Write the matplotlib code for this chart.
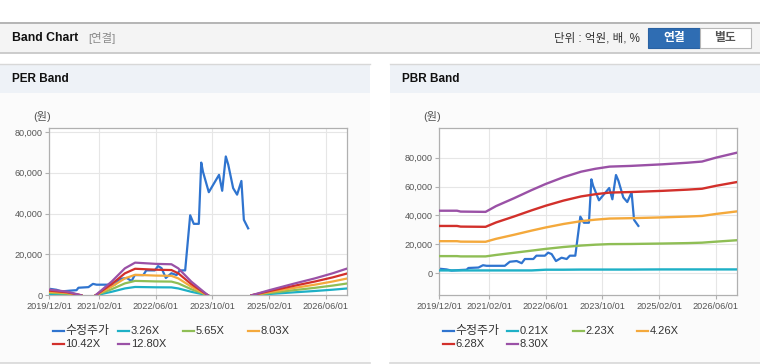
import numpy as np
import pandas as pd
import matplotlib
matplotlib.use("Agg")
import matplotlib.pyplot as plt
import matplotlib.dates as mdates
from matplotlib.patches import Rectangle
from matplotlib.lines import Line2D

plt.rcParams['font.family'] = ['Liberation Sans', 'Noto Sans CJK KR', 'DejaVu Sans']

W, H = 760, 364
nan = np.nan

# ---- data ----
price_dates = ['2019-12-01', '2020-02-01', '2020-03-15', '2020-06-01', '2020-07-22', '2020-08-07',
               '2020-11-01', '2020-12-10', '2021-01-10', '2021-06-15', '2021-07-28', '2021-09-25',
               '2021-11-07', '2021-12-04', '2022-02-15', '2022-03-13', '2022-05-25', '2022-06-22',
               '2022-07-22', '2022-08-28', '2022-10-15', '2022-11-28', '2022-12-25', '2023-02-10',
               '2023-03-25', '2023-04-25', '2023-06-07', '2023-06-28', '2023-07-13', '2023-09-01',
               '2023-11-28', '2023-12-25', '2024-01-25', '2024-02-15', '2024-03-28', '2024-05-01',
               '2024-06-07', '2024-06-28', '2024-08-04']
price = [3200, 2700, 1900, 2300, 2500, 3700,
         4000, 5600, 5200, 5200, 8000, 8500,
         7000, 9900, 9900, 12200, 12200, 14300,
         13300, 8500, 10800, 9900, 12200, 12200,
         39200, 35000, 35000, 65000, 60500, 50500,
         59000, 51200, 68000, 64000, 52500, 49300,
         56000, 37000, 32800]

per_dates = ['2019-12-01', '2020-05-01', '2020-09-01', '2020-11-01', '2021-01-01', '2021-05-19',
             '2021-09-10', '2021-12-07', '2022-06-01', '2022-10-15', '2022-12-13', '2023-04-04',
             '2023-08-25', '2024-03-01', '2024-09-01', '2025-02-01', '2025-09-01', '2026-03-01',
             '2026-08-01', '2026-12-01']
per_326 = [710, 460, 0, nan, 0, 1710, 3360, 4080, 3920, 3870, 3360, 1710, 0, nan, 0, 640, 1450, 2110, 2750, 3340]
per_565 = [1240, 790, 0, nan, 0, 2960, 5830, 7060, 6800, 6710, 5830, 2960, 0, nan, 0, 1100, 2520, 3660, 4770, 5780]
per_803 = [1760, 1130, 0, nan, 0, 4200, 8280, 10040, 9660, 9530, 8280, 4200, 0, nan, 0, 1570, 3580, 5210, 6770, 8220]
per_1042 = [2280, 1470, 0, nan, 0, 5450, 10750, 13000, 12540, 12370, 10750, 5450, 0, nan, 0, 2040, 4640, 6760, 8790, 10670]
per_1280 = [2800, 1800, 0, nan, 0, 6700, 13200, 16000, 15400, 15200, 13200, 6700, 0, nan, 0, 2500, 5700, 8300, 10800, 13100]

pbr_dates = ['2019-12-01', '2020-05-01', '2020-06-01', '2021-01-01', '2021-04-01', '2021-09-01',
             '2022-02-01', '2022-06-01', '2022-11-01', '2023-04-01', '2023-08-01', '2023-12-01',
             '2024-06-01', '2025-03-01', '2025-10-01', '2026-02-01', '2026-06-01', '2026-12-01']
pbr_021 = [2000, 2000, 2000, 2000, 2000, 2000, 2000, 2500, 2500, 2600, 2600, 2600, 2600, 2700, 2700, 2700, 2700, 2700]
pbr_223 = [11900, 11900, 11700, 11700, 12700, 14200, 15700, 16900, 18200, 19200, 19800, 20200, 20300, 20600, 20900, 21200, 21900, 22900]
pbr_426 = [22230, 22230, 21920, 21820, 23870, 26640, 29570, 31720, 34130, 36080, 37110, 37880, 38140, 38700, 39270, 39680, 41060, 42860]
pbr_628 = [32760, 32760, 32310, 32160, 35180, 39270, 43580, 46760, 50310, 53190, 54700, 55840, 56220, 57050, 57880, 58490, 60530, 63180]
pbr_830 = [43300, 43300, 42700, 42500, 46500, 51900, 57600, 61800, 66500, 70300, 72300, 73800, 74300, 75400, 76500, 77300, 80000, 83500]

x_ticks = ['2019/12/01', '2021/02/01', '2022/06/01', '2023/10/01', '2025/02/01', '2026/06/01']
y_ticks = [0, 20000, 40000, 60000, 80000]

price_color = '#2f74cf'
band_colors = ['#1eb0c6', '#8fbe55', '#f4a93c', '#d2302b', '#9a51a6']
per_labels = ['3.26X', '5.65X', '8.03X', '10.42X', '12.80X']
pbr_labels = ['0.21X', '2.23X', '4.26X', '6.28X', '8.30X']


def fx(x):
    return x / W


def fy(y):
    return 1 - y / H


fig = plt.figure(figsize=(W / 100, H / 100), dpi=100, facecolor='white')


def rect(x0, y0, x1, y1, fc, ec='none', lw=0, z=0):
    fig.add_artist(Rectangle((fx(x0), fy(y1)), fx(x1 - x0), (y1 - y0) / H,
                             transform=fig.transFigure, facecolor=fc, edgecolor=ec,
                             linewidth=lw, zorder=z))


def hline(x0, x1, y, color, lw=1.0):
    fig.add_artist(Line2D([fx(x0), fx(x1)], [fy(y), fy(y)], transform=fig.transFigure,
                          color=color, linewidth=lw, zorder=1))


# header bar
rect(0, 22.5, W, 52.5, '#f4f4f4')
hline(0, W, 22.5, '#aaaaaa', 1.2)
hline(0, W, 52.8, '#c4c4c4', 1.2)
fig.text(fx(12), fy(38), 'Band Chart', fontsize=8.8, fontweight='bold', color='#111111', va='center')
fig.text(fx(88), fy(38), '[연결]', fontsize=8.2, color='#8a8a8a', va='center')
fig.text(fx(640), fy(38.5), '단위 : 억원, 배, %', fontsize=8.3, color='#333333', va='center', ha='right')
rect(648, 28.5, 700, 47.5, '#2f6db3', '#2a62a3', 0.8, 2)
rect(700, 28.5, 750.5, 47.5, '#ffffff', '#b8b8b8', 0.8, 2)
fig.text(fx(674), fy(38), '연결', fontsize=8.5, fontweight='bold', color='white', va='center', ha='center', zorder=3)
fig.text(fx(725), fy(38), '별도', fontsize=8.5, fontweight='bold', color='#555555', va='center', ha='center', zorder=3)

# panels
for px0, px1, title in [(0, 369.5, 'PER Band'), (390, W, 'PBR Band')]:
    rect(px0, 64, px1, 93, '#eef2f7')
    rect(px0, 93, px1, 362.5, '#fbfbfb')
    hline(px0, px1, 64, '#d8d8d8', 1.0)
    hline(px0, px1, 362.5, '#d8d8d8', 1.2)
    fig.text(fx(px0 + 12), fy(79.5), title, fontsize=8.5, fontweight='bold', color='#111111', va='center')
    fig.text(fx(px0 + 33), fy(117), '(원)', fontsize=8, color='#555555', va='center')


def setup_axes(ax, ylim):
    ax.set_facecolor('white')
    ax.set_xlim(pd.Timestamp('2019-12-01'), pd.Timestamp('2026-12-01'))
    ax.set_ylim(*ylim)
    ax.set_xticks(pd.to_datetime(x_ticks, format='%Y/%m/%d'))
    ax.xaxis.set_major_formatter(mdates.DateFormatter('%Y/%m/%d'))
    ax.set_yticks(y_ticks)
    ax.set_yticklabels([f'{v:,}' for v in y_ticks])
    ax.grid(True, color='#e6e6e6', linewidth=0.8)
    ax.set_axisbelow(True)
    for s in ax.spines.values():
        s.set_color('#b0b0b0')
        s.set_linewidth(0.9)
    ax.tick_params(labelsize=6.6, colors='#555555', length=3, width=0.8, pad=2)
    ax.tick_params(color='#b0b0b0')


ax1 = fig.add_axes([49.3 / W, (H - 295.3) / H, 297.7 / W, 167 / H])
ax2 = fig.add_axes([439.3 / W, (H - 295.3) / H, 298 / W, 167 / H])
setup_axes(ax1, (0, 81800))
setup_axes(ax2, (-15200, 100300))

pd_price = pd.to_datetime(price_dates)
per_x = pd.to_datetime(per_dates)
pbr_x = pd.to_datetime(pbr_dates)

for ax in (ax1, ax2):
    ax.plot(pd_price, price, color=price_color, linewidth=1.6, zorder=2)

for vals, c in zip([per_326, per_565, per_803, per_1042, per_1280], band_colors):
    ax1.plot(per_x, vals, color=c, linewidth=1.6, zorder=3)
for vals, c in zip([pbr_021, pbr_223, pbr_426, pbr_628, pbr_830], band_colors):
    ax2.plot(pbr_x, vals, color=c, linewidth=1.7, zorder=3)

# legends
for base, labels in [(0, per_labels), (390, pbr_labels)]:
    names = ['수정주가'] + labels
    colors = [price_color] + band_colors
    cols = [52.7, 118.3, 182.7, 247.7] if base == 0 else [442.7, 507.3, 572.7, 637.3]
    for i, (name, c) in enumerate(zip(names, colors)):
        row, col = divmod(i, 4)
        x0 = cols[col]
        y = 330.7 + row * 13.3
        fig.add_artist(Line2D([fx(x0), fx(x0 + 10.8)], [fy(y), fy(y)], transform=fig.transFigure,
                              color=c, linewidth=1.6, zorder=3))
        fs = 8.6 if i == 0 else 8
        fig.text(fx(x0 + 12.5), fy(y + 0.3), name, fontsize=fs, color='#333333', va='center')

fig.savefig('out.png', dpi=100, facecolor='white')
